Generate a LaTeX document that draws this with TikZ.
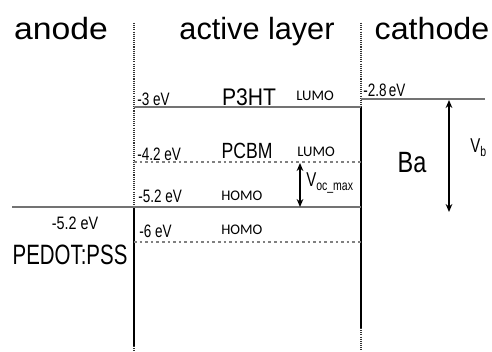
\documentclass[tikz,border=0pt]{standalone}
\usepackage{fontspec}
\setmainfont{Liberation Sans}
\newfontfamily\calib{Carlito}
\usetikzlibrary{arrows.meta}
\newcommand\tx[3]{\scalebox{#2}[1]{\fontsize{#1}{#1}\selectfont #3}}
\tikzset{
  lvl/.style={draw=black!55, line width=1.6pt},
  dlvl/.style={draw=black!50, line width=1.3pt, dash pattern=on 2pt off 2.2pt},
  bound/.style={draw=black, line width=1pt},
  dbound/.style={draw=black!80, line width=0.9pt, dash pattern=on 0.8pt off 0.8pt},
  arr/.style={draw=black, line width=1.5pt, {Stealth[length=6pt,width=5pt]}-{Stealth[length=6pt,width=5pt]}},
  lab/.style={inner sep=0pt, anchor=base},
  labw/.style={inner sep=0pt, anchor=base west},
}
\begin{document}
\begin{tikzpicture}[x=0.75pt,y=-0.75pt]
\useasboundingbox (0,0) rectangle (492,351);
% boundaries
\coordinate (L0) at (134,23); \coordinate (L1) at (134,207); \coordinate (L2) at (134,346); \coordinate (L3) at (134,351);
\coordinate (R0) at (361,23); \coordinate (R1) at (361,107); \coordinate (R2) at (361,328); \coordinate (R3) at (361,350);
\draw[dbound] (L0) -- (L1);
\draw[bound] (L1) -- (L2);
\draw[dbound] (L2) -- (L3);
\draw[dbound] (R0) -- (R1);
\draw[bound] (R1) -- (R2);
\draw[dbound] (R2) -- (R3);
% levels
\coordinate (a1) at (12,207); \coordinate (a2) at (361,207);
\coordinate (p1) at (134,107); \coordinate (p2) at (361,107);
\coordinate (c1) at (361,99); \coordinate (c2) at (485,99);
\coordinate (m1) at (134,162); \coordinate (m2) at (361,162);
\coordinate (h1) at (134,242); \coordinate (h2) at (361,242);
\draw[lvl] (a1) -- (a2);
\draw[lvl] (p1) -- (p2);
\draw[lvl] (c1) -- (c2);
\draw[dlvl] (m1) -- (m2);
\draw[dlvl] (h1) -- (h2);
% arrows
\coordinate (v1) at (300,163); \coordinate (v2) at (300,207);
\coordinate (b1) at (449,100); \coordinate (b2) at (449,212);
\draw[arr] (v1) -- (v2);
\draw[arr] (b1) -- (b2);
% headers
\node[lab] (anode) at (61,39) {\tx{23}{1.1}{anode}};
\node[lab] (active) at (257,39) {\tx{23}{1.0}{active layer}};
\node[lab] (cathode) at (432,39) {\tx{23}{1.05}{cathode}};
% material names
\node[lab] (p3ht) at (249,105) {\tx{18}{0.88}{P3HT}};
\node[lab] (pcbm) at (247,158) {\tx{16.5}{0.8}{PCBM}};
\node[lab] (ba) at (412,172) {\tx{22}{0.8}{Ba}};
\node[lab] (pedot) at (70,264) {\tx{21}{0.73}{PEDOT:PSS}};
% energies
\node[labw] (e1) at (137,105) {\tx{13.5}{0.75}{-3 eV}};
\node[labw] (e2) at (363,96) {\tx{13.5}{0.75}{-2.8\,eV}};
\node[labw] (e3) at (137,160) {\tx{13.5}{0.75}{-4.2 eV}};
\node[labw] (e4) at (138,202) {\tx{13.5}{0.75}{-5.2 eV}};
\node[labw] (e5) at (139,237) {\tx{13.5}{0.75}{-6 eV}};
\node[lab] (e6) at (75,229) {\tx{13.5}{0.8}{-5.2 eV}};
% LUMO / HOMO
\node[labw] (l1) at (296,100) {\calib\fontsize{11}{11}\selectfont LUMO};
\node[labw] (l2) at (297,156) {\calib\fontsize{11}{11}\selectfont LUMO};
\node[labw] (h1t) at (221,200) {\calib\fontsize{11}{11}\selectfont HOMO};
\node[labw] (h2t) at (221,234) {\calib\fontsize{11}{11}\selectfont HOMO};
% voltages
\node[labw] (voc) at (306,186) {\scalebox{0.75}[1]{\fontsize{15}{15}\selectfont V\raisebox{-3pt}{\fontsize{10.5}{10.5}\selectfont oc\_max}}};
\node[labw] (vb) at (470,152) {\scalebox{0.75}[1]{\fontsize{15}{15}\selectfont V\raisebox{-3pt}{\fontsize{10.5}{10.5}\selectfont b}}};
\end{tikzpicture}
\end{document}
